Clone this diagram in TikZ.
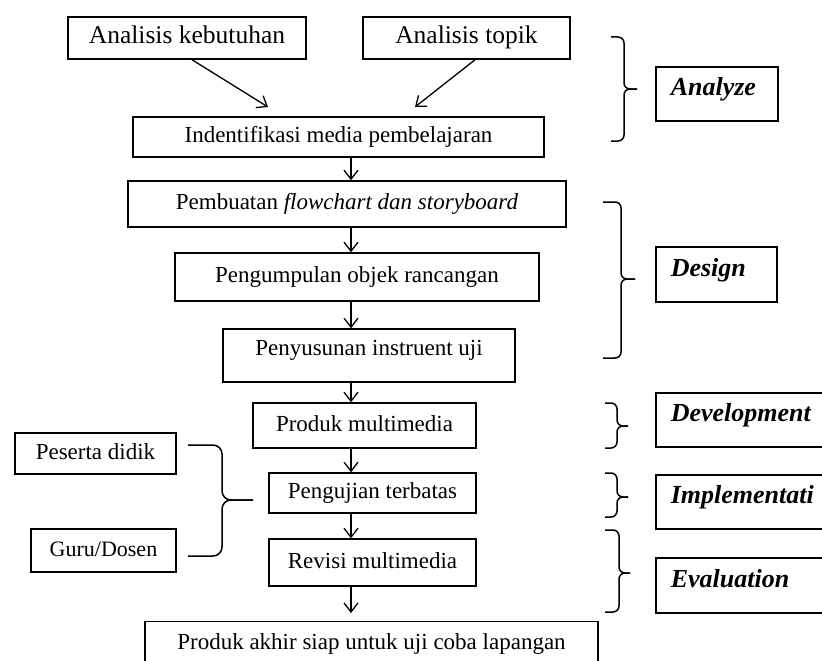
\documentclass[tikz,border=0pt]{standalone}
\usepackage{fontspec}
\setmainfont{Liberation Serif}
\usetikzlibrary{arrows.meta,calc}
\begin{document}
\begin{tikzpicture}[x=1pt,y=-1pt,
  box/.style={draw, line width=1.5pt, rectangle, inner sep=0pt, font=\fontsize{23}{27}\selectfont, text height=16pt, text depth=5pt},
  topbox/.style={box, font=\fontsize{25.5}{30}\selectfont, text height=18pt, text depth=6pt},
  lbl/.style={draw, line width=1.5pt, rectangle, inner xsep=15pt, inner ysep=0pt, align=left,
    font=\fontsize{26}{30}\selectfont\bfseries\itshape, text height=18pt, text depth=15pt, anchor=west},
  arr/.style={line width=1.3pt, -{Straight Barb[length=9pt,width=14pt,line width=1.3pt]}},
  brk/.style={line width=1.5pt, rounded corners=6pt}]
\useasboundingbox (0,0) rectangle (822,661);
\clip (0,0) rectangle (822,661);

% top boxes
\node[topbox, minimum width=238pt, minimum height=42pt] (a1) at (187,38) {Analisis kebutuhan};
\node[topbox, minimum width=207pt, minimum height=42pt] (a2) at (466.5,38) {Analisis topik};

% main column
\node[box, minimum width=411pt, minimum height=40pt] (n1) at (338.5,137) {Indentifikasi media pembelajaran};
\node[box, minimum width=438pt, minimum height=46pt] (n2) at (347,204) {Pembuatan \textit{flowchart dan storyboard}};
\node[box, minimum width=364pt, minimum height=48pt] (n3) at (357,277) {Pengumpulan objek rancangan};
\node[box, minimum width=292pt, minimum height=53pt, text height=16pt, text depth=16pt] (n4) at (369,355.5) {Penyusunan instruent uji};
\node[box, minimum width=223pt, minimum height=45pt] (n5) at (364.5,425.5) {Produk multimedia};
\node[box, minimum width=207pt, minimum height=40pt] (n6) at (372.5,493) {Pengujian terbatas};
\node[box, minimum width=207pt, minimum height=47pt] (n7) at (372.5,562.5) {Revisi multimedia};
\node[box, minimum width=453pt, minimum height=44pt] (n8) at (371.5,643.5) {Produk akhir siap untuk uji coba lapangan};

% left boxes
\node[box, minimum width=161pt, minimum height=41pt] (p1) at (95.5,453.5) {Peserta didik};
\node[box, minimum width=145pt, minimum height=43pt, font=\fontsize{22}{26}\selectfont] (p2) at (103.5,550.5) {Guru/Dosen};

% phase labels
\node[lbl, text width=92pt, minimum height=54pt] (L1) at (655,94) {Analyze};
\node[lbl, text width=91pt, minimum height=55pt] (L2) at (655,274.5) {Design};
\node[lbl, text width=180pt, minimum height=54pt] (L3) at (655,420) {Development};
\node[lbl, text width=180pt, minimum height=54pt] (L4) at (655,502) {Implementati};
\node[lbl, text width=180pt, minimum height=55pt] (L5) at (655,585.5) {Evaluation};

% arrows
\coordinate (t1) at (268,107);
\coordinate (t2) at (415,107);
\coordinate (cx) at (351,0);
\coordinate (e8) at (351,613);
\draw[arr] ($(a1.south west)!0.521!(a1.south east)$) -- (t1);
\draw[arr] ($(a2.south west)!0.541!(a2.south east)$) -- (t2);
\draw[arr] (n1.south -| cx) -- (n2.north -| cx);
\draw[arr] (n2.south -| cx) -- (n3.north -| cx);
\draw[arr] (n3.south -| cx) -- (n4.north -| cx);
\draw[arr] (n4.south -| cx) -- (n5.north -| cx);
\draw[arr] (n5.south -| cx) -- (n6.north -| cx);
\draw[arr] (n6.south -| cx) -- (n7.north -| cx);
\draw[arr] (n7.south -| cx) -- (e8);

% brackets
\draw[brk] (611,37) -- (624,37) -- (624,89) -- (637,89);
\draw[brk] (611,141) -- (624,141) -- (624,89) -- (637,89);
\draw[brk] (603,202) -- (621,202) -- (621,279) -- (635,279);
\draw[brk] (603,358) -- (621,358) -- (621,279) -- (635,279);
\draw[brk] (605,403) -- (617,403) -- (617,426) -- (628,426);
\draw[brk] (605,448) -- (617,448) -- (617,426) -- (628,426);
\draw[brk] (605,473) -- (617,473) -- (617,497) -- (628,497);
\draw[brk] (605,517) -- (617,517) -- (617,497) -- (628,497);
\draw[brk] (605,530) -- (619,530) -- (619,573) -- (630,573);
\draw[brk] (605,612) -- (619,612) -- (619,573) -- (630,573);
\draw[brk, rounded corners=9pt] (188,445) -- (222,445) -- (222,500) -- (253,500);
\draw[brk, rounded corners=9pt] (188,556) -- (222,556) -- (222,500) -- (253,500);
\end{tikzpicture}
\end{document}
